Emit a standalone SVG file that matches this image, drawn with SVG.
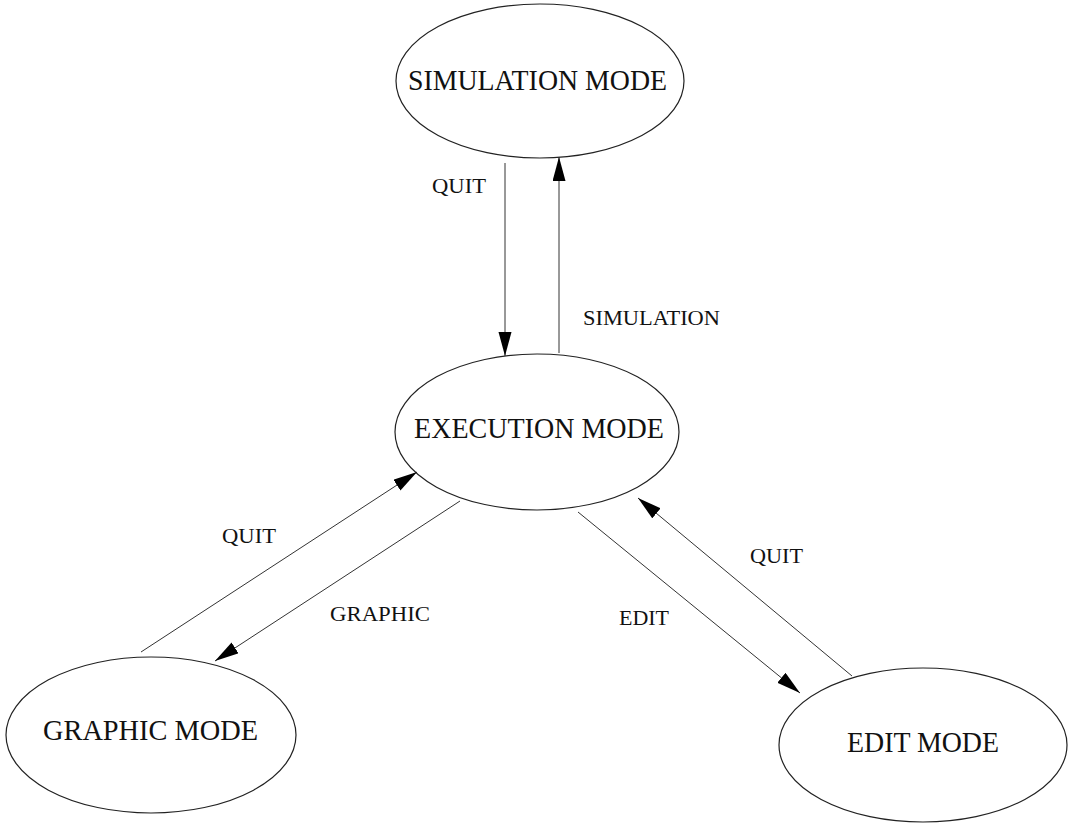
<svg xmlns="http://www.w3.org/2000/svg" width="1073" height="823" viewBox="0 0 1073 823">
<style>
.node ellipse{fill:#fff;stroke:#222;stroke-width:1.2}
.node text{font-family:"Liberation Serif","Times New Roman",serif;font-size:30px;fill:#111;text-anchor:start}
.edge line{stroke:#333;stroke-width:1}
.lbl{font-family:"Liberation Serif","Times New Roman",serif;font-size:21px;fill:#111}
</style>
<defs>
<marker id="ah" markerUnits="userSpaceOnUse" markerWidth="26" markerHeight="14" refX="24" refY="6.5" orient="auto">
<path d="M0,0 L24,6.5 L0,13 Z" fill="#000"/>
</marker>
</defs>
<rect width="1073" height="823" fill="#fff"/>
<g id="sim" class="node">
<ellipse cx="540" cy="81" rx="144" ry="77"/>
<text x="408" y="90" textLength="259" lengthAdjust="spacingAndGlyphs">SIMULATION MODE</text>
</g>
<g id="exec" class="node">
<ellipse cx="537" cy="432" rx="142" ry="78"/>
<text x="414" y="438" textLength="250" lengthAdjust="spacingAndGlyphs">EXECUTION MODE</text>
</g>
<g id="graphic" class="node">
<ellipse cx="151" cy="735" rx="145" ry="78"/>
<text x="43" y="740" textLength="215" lengthAdjust="spacingAndGlyphs">GRAPHIC MODE</text>
</g>
<g id="edit" class="node">
<ellipse cx="923" cy="745" rx="144" ry="77"/>
<text x="847" y="752" textLength="152" lengthAdjust="spacingAndGlyphs">EDIT MODE</text>
</g>
<g id="connectors" class="edge">
<line x1="505" y1="163" x2="505" y2="356" marker-end="url(#ah)"/>
<line x1="559" y1="353" x2="559" y2="157" marker-end="url(#ah)"/>
<line x1="141" y1="652" x2="417" y2="472" marker-end="url(#ah)"/>
<line x1="460" y1="501" x2="215" y2="661" marker-end="url(#ah)"/>
<line x1="578" y1="512" x2="800" y2="693" marker-end="url(#ah)"/>
<line x1="852" y1="676" x2="638" y2="498" marker-end="url(#ah)"/>
<text class="lbl" x="432" y="193" textLength="54" lengthAdjust="spacingAndGlyphs">QUIT</text>
<text class="lbl" x="583" y="325" textLength="137" lengthAdjust="spacingAndGlyphs">SIMULATION</text>
<text class="lbl" x="222" y="543" textLength="54" lengthAdjust="spacingAndGlyphs">QUIT</text>
<text class="lbl" x="330" y="621" textLength="100" lengthAdjust="spacingAndGlyphs">GRAPHIC</text>
<text class="lbl" x="750" y="563" textLength="53" lengthAdjust="spacingAndGlyphs">QUIT</text>
<text class="lbl" x="619" y="625" textLength="50" lengthAdjust="spacingAndGlyphs">EDIT</text>
</g>
</svg>
